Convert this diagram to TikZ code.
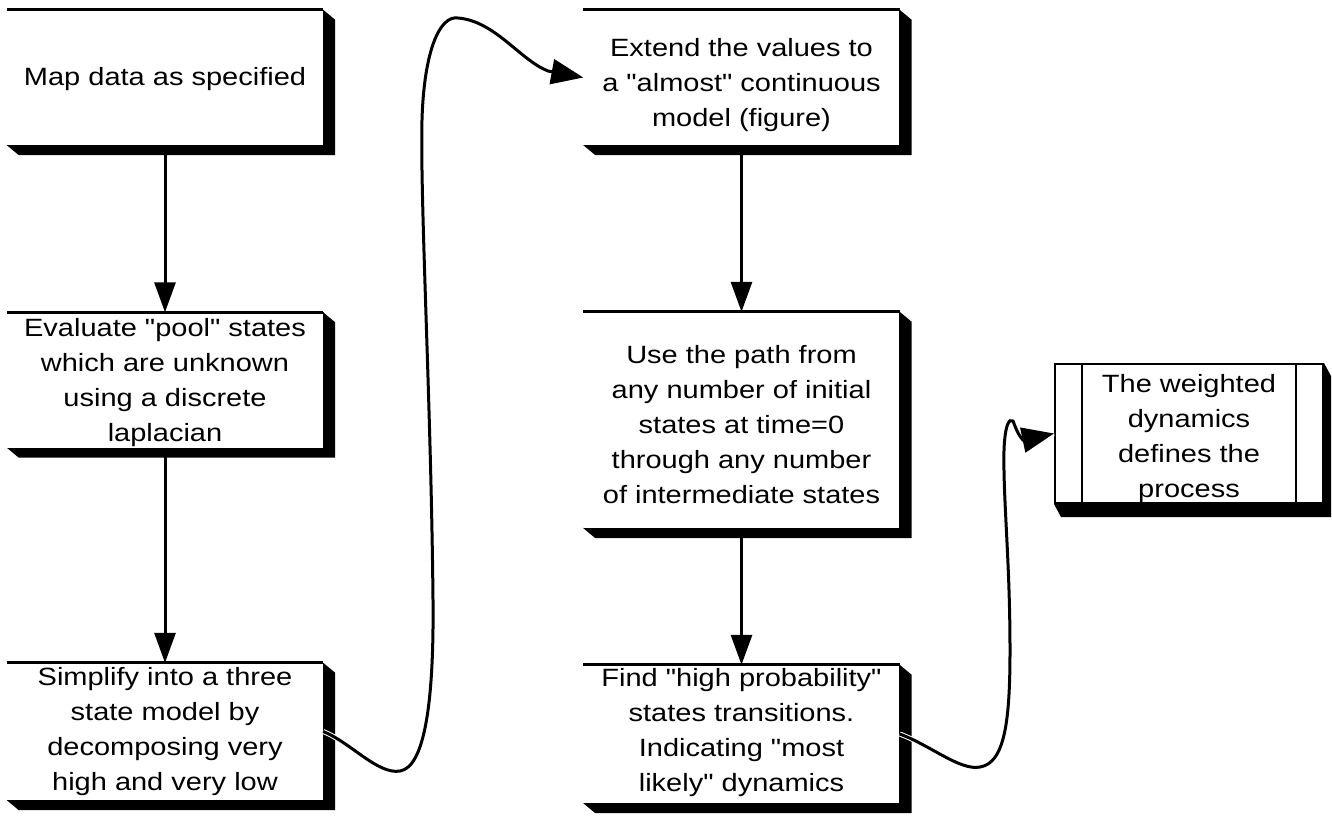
\documentclass[tikz,border=0pt]{standalone}
\usepackage{fontspec}
\setmainfont[FakeStretch=1.16, Ligatures=TeXOff]{Liberation Sans}
\usetikzlibrary{arrows.meta,calc,backgrounds}

\tikzset{
  stepbox/.style={fill=white, inner sep=0pt,
    minimum width=316pt, minimum height=135pt},
  procbox/.style={stepbox, draw=black, line width=2pt,
    minimum width=268pt, minimum height=139pt},
  boxtext/.style={inner sep=0pt, align=center,
    font=\fontsize{25pt}{35pt}\selectfont},
  topedge/.style={line width=3pt},
  sideedge/.style={line width=1pt},
  flow/.style={line width=3pt, -{Triangle[length=30pt,width=21pt]}},
  curvy/.style={line width=3pt, -{Triangle[length=32pt,width=25pt]},
    preaction={draw=white, line width=5pt, -}},
}

% drop shadow of a box, slanted at the two free corners
\newcommand\boxshade[3]{%
  \begin{scope}[on background layer]
    \fill (#1.north east) -- ++(#2,#3) |- ($(#1.south west)+(#2,#3)$)
      -- (#1.south west) -- cycle;
  \end{scope}}
% visible rim of a plain box: heavy top edge and thin right edge
\newcommand\boxrim[1]{%
  \draw[topedge] (#1.north west) -- (#1.north east);
  \draw[sideedge] (#1.north east) -- (#1.south east);}

\begin{document}
\begin{tikzpicture}[x=1pt, y=-1pt]
\useasboundingbox (0,0) rectangle (1332,815);

% boxes: left column, middle column, predefined process
\node[stepbox] (b1) at (165,77.5) {};
\node[stepbox] (b2) at (165,380) {};
\node[stepbox, minimum height=137pt] (b3) at (165,731.5) {};
\node[stepbox] (b4) at (741.5,77.5) {};
\node[stepbox, minimum height=216pt] (b5) at (741.5,420) {};
\node[stepbox, minimum height=138pt] (b6) at (741.5,734) {};
\node[procbox] (b7) at (1189,433.5) {};

\foreach \b in {b1,b2,b3,b4,b5,b6} {\boxshade{\b}{12}{10}}
\boxshade{b7}{7}{13}
\foreach \b in {b1,b2,b3,b4,b5,b6} {\boxrim{\b}}
\draw[line width=1.5pt] ($(b7.north west)+(28,0)$) -- ($(b7.south west)+(28,0)$);
\draw[line width=1.5pt] ($(b7.north east)+(-28,0)$) -- ($(b7.south east)+(-28,0)$);

% box texts
\node[boxtext] (t1) at ($(b1)+(0,2)$) {Map data as specified};
\node[boxtext] (t2) at ($(b2)+(0,3)$) {Evaluate "pool" states\\which are unknown\\using a discrete\\laplacian};
\node[boxtext] (t3) at (b3) {Simplify into a three\\state model by\\decomposing very\\high and very low};
\node[boxtext] (t4) at ($(b4)+(0,8)$) {Extend the values to\\a "almost" continuous\\model (figure)};
\node[boxtext] (t5) at ($(b5)+(0,5)$) {Use the path from\\any number of initial\\states at time=0\\through any number\\of intermediate states};
\node[boxtext] (t6) at ($(b6)+(0,-1)$) {Find "high probability"\\states transitions.\\Indicating "most\\likely" dynamics};
\node[boxtext] (t7) at ($(b7)+(0,5)$) {The weighted\\dynamics\\defines the\\process};

% straight flow arrows
\draw[flow] (b1.south) -- (b2.north);
\draw[flow] (b2.south) -- (b3.north);
\draw[flow] (b4.south) -- (b5.north);
\draw[flow] (b5.south) -- (b6.north);

% hand-drawn looking connectors between the columns
\draw[curvy] (b3.east)
  .. controls (350,742) and (378,775) .. (400,771)
  .. controls (425,767) and (434,700) .. (433,600)
  .. controls (431,400) and (420,200) .. (422,120)
  .. controls (424,50) and (440,15) .. (458,18)
  .. controls (495,21) and (520,60) .. (548,71)
  -- (b4.west);
\draw[curvy] (b6.east)
  .. controls (930,745) and (960,771) .. (980,767)
  .. controls (1005,763) and (1010,720) .. (1010,650)
  .. controls (1010,560) and (1003,500) .. (1004,450)
  .. controls (1005,425) and (1009,418) .. (1013,421)
  .. controls (1015,426) and (1018,435) .. (1023,440)
  -- (b7.west);
\end{tikzpicture}
\end{document}
